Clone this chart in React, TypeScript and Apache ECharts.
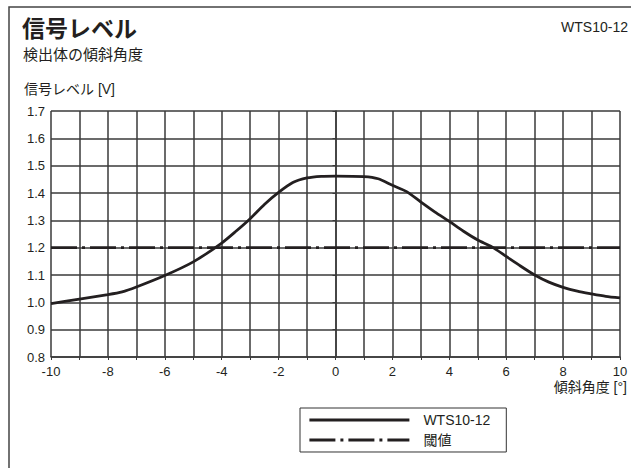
import React, { useEffect, useRef } from "react";
import * as echarts from "echarts";

const xs = [-10, -9, -8, -7.5, -7, -6, -5, -4, -3.5, -3, -2.5, -2, -1.5, -1, -0.5, 0, 1, 1.5, 2, 2.5, 3, 3.5, 4, 4.5, 5, 5.5, 6, 6.5, 7, 7.5, 8, 8.5, 9, 9.5, 10];
const signal = [0.995, 1.012, 1.028, 1.038, 1.056, 1.098, 1.148, 1.217, 1.26, 1.306, 1.358, 1.402, 1.438, 1.455, 1.461, 1.462, 1.46, 1.452, 1.428, 1.405, 1.367, 1.33, 1.296, 1.26, 1.228, 1.203, 1.168, 1.133, 1.1, 1.074, 1.055, 1.041, 1.031, 1.022, 1.016];
const thresholdX = [-10, 10];
const thresholdY = [1.2, 1.2];
const seriesNames = ["WTS10-12", "閾値"];
const title = "信号レベル";
const subtitle = "検出体の傾斜角度";
const model = "WTS10-12";
const yName = "信号レベル [V]";
const xName = "傾斜角度 [°]";

const FONT = "'Liberation Sans', 'Noto Sans CJK JP', sans-serif";
const INK = "#231f20";
const GRID = "#3a3a3a";

export default function App() {
  const ref = useRef<HTMLDivElement>(null);
  useEffect(() => {
    if (!ref.current) return;
    const chart = echarts.init(ref.current, null, { renderer: "svg" });
    chart.setOption({
      animation: false,
      backgroundColor: "#fff",
      grid: { left: 51, right: 11, top: 111, bottom: 111, containLabel: false },
      xAxis: {
        type: "value",
        min: -10,
        max: 10,
        interval: 1,
        axisLine: { show: true, lineStyle: { color: GRID, width: 1.5 } },
        axisTick: { show: true, length: 3, lineStyle: { color: GRID, width: 1 } },
        splitLine: { show: true, lineStyle: { color: GRID, width: 1.5 } },
        axisLabel: {
          color: INK,
          fontFamily: FONT,
          fontSize: 13,
          margin: 8,
          formatter: (v: number) => (Math.round(v) % 2 === 0 ? String(v) : ""),
        },
      },
      yAxis: {
        type: "value",
        min: 0.8,
        max: 1.7,
        interval: 0.1,
        axisLine: { show: true, lineStyle: { color: GRID, width: 1.5 } },
        axisTick: { show: true, length: 3, lineStyle: { color: GRID, width: 1 } },
        splitLine: { show: true, lineStyle: { color: GRID, width: 1.5 } },
        axisLabel: {
          color: INK,
          fontFamily: FONT,
          fontSize: 13,
          margin: 6,
          formatter: (v: number) => v.toFixed(1),
        },
      },
      legend: {
        orient: "vertical",
        left: 300,
        top: 408,
        padding: [5, 16, 5, 8],
        itemGap: 6,
        itemWidth: 100,
        itemHeight: 14,
        borderColor: "#333",
        borderWidth: 1,
        backgroundColor: "#fff",
        itemStyle: { opacity: 0 },
        lineStyle: { width: 2.8 },
        textStyle: { color: INK, fontFamily: FONT, fontSize: 14, padding: [0, 0, 0, 9] },
        data: seriesNames,
      },
      series: [
        {
          name: seriesNames[0],
          type: "line",
          data: xs.map((x, i) => [x, signal[i]]),
          smooth: 0.25,
          showSymbol: false,
          symbol: "none",
          lineStyle: { color: INK, width: 2.8 },
          itemStyle: { color: INK },
          z: 4,
        },
        {
          name: seriesNames[1],
          type: "line",
          data: thresholdX.map((x, i) => [x, thresholdY[i]]),
          showSymbol: false,
          symbol: "none",
          lineStyle: { color: INK, width: 2.8, type: [26, 5, 3, 5] },
          itemStyle: { color: INK },
          z: 3,
        },
      ],
      graphic: [
        {
          type: "rect",
          shape: { x: 9, y: 7, width: 800, height: 800 },
          style: { fill: "none", stroke: "#444", lineWidth: 1.5 },
          silent: true,
        },
        {
          type: "text",
          left: 22,
          top: 17,
          style: { text: title, fill: INK, font: `bold 23px ${FONT}` },
        },
        {
          type: "text",
          left: 23,
          top: 47,
          style: { text: subtitle, fill: INK, font: `15px ${FONT}` },
        },
        {
          type: "text",
          right: 3,
          top: 20,
          style: { text: model, fill: INK, font: `14px ${FONT}` },
        },
        {
          type: "text",
          left: 24,
          top: 82,
          style: { text: yName, fill: INK, font: `14px ${FONT}` },
        },
        {
          type: "text",
          right: 4,
          top: 380,
          style: { text: xName, fill: INK, font: `14px ${FONT}` },
        },
      ],
    });
    return () => chart.dispose();
  }, []);
  return <div ref={ref} style={{ width: 631, height: 468, position: "absolute", left: 0, top: 0 }} />;
}
